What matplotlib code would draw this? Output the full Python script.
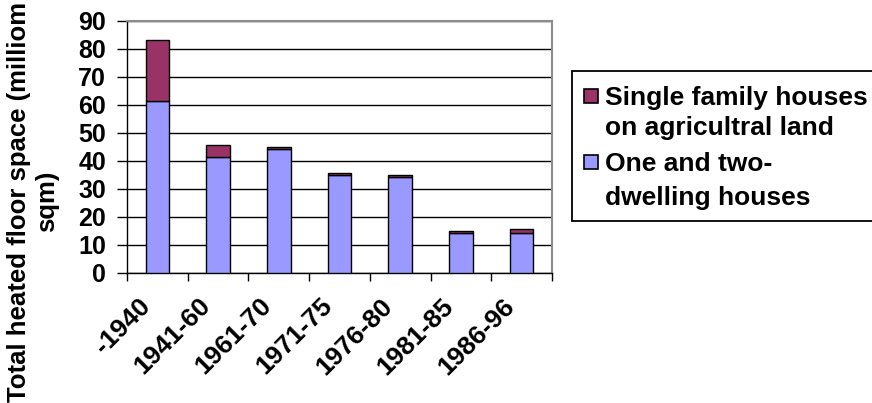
import numpy as np
import matplotlib.pyplot as plt
import matplotlib.transforms as mtransforms
from matplotlib.patches import Rectangle

plt.rcParams['font.family'] = ['Liberation Sans', 'DejaVu Sans']
plt.rcParams['font.weight'] = 'bold'

# heated floor space by construction period (million sqm)
periods = ['-1940', '1941-60', '1961-70', '1971-75', '1976-80', '1981-85', '1986-96']
one_two_dwelling = [61.5, 41.5, 44.2, 35.0, 34.2, 14.2, 14.2]
single_agri = [21.5, 4.2, 0.9, 0.7, 0.9, 0.9, 1.4]

blue = '#9999FF'
maroon = '#993366'

W, H = 872, 403
fig = plt.figure(figsize=(W / 100, H / 100), dpi=100)
ax = fig.add_axes([127 / W, 1 - 273 / H, 425 / W, (273 - 20.7) / H])

x = np.arange(len(periods))
b1 = ax.bar(x, one_two_dwelling, width=0.39, color=blue, edgecolor='black', linewidth=1, zorder=3)
b2 = ax.bar(x, single_agri, width=0.39, bottom=one_two_dwelling, color=maroon, edgecolor='black',
            linewidth=1, zorder=3)

ax.set_xlim(-0.5, len(periods) - 0.5)
ax.set_ylim(0, 90)
ax.set_yticks(range(0, 91, 10))
ax.yaxis.grid(True, color='black', linewidth=1)
ax.set_axisbelow(True)

ax.set_xticks(x)
ax.set_xticklabels(periods, rotation=45, ha='right', va='center', rotation_mode='anchor')
ax.set_xticks(np.arange(-0.5, len(periods)), minor=True)
ax.tick_params(axis='x', which='major', length=0, pad=21, labelsize=19)
ax.tick_params(axis='x', which='minor', length=6, width=1, direction='out')
ax.tick_params(axis='y', length=7, width=1, direction='out', labelsize=18, pad=8)
offset = mtransforms.ScaledTranslation(-11 / 100, 0, fig.dpi_scale_trans)
for lbl in ax.get_xticklabels():
    lbl.set_transform(lbl.get_transform() + offset)

for side in ['top', 'right']:
    ax.spines[side].set_color('#8c8c8c')
    ax.spines[side].set_linewidth(1.5)
for side in ['left', 'bottom']:
    ax.spines[side].set_color('black')
    ax.spines[side].set_linewidth(1)

fig.text(33 / W, 0.5, 'Total heated floor space (milliom\nsqm)', rotation=90, ha='center', va='center',
         multialignment='center', fontsize=18.5, fontweight='bold', linespacing=1.2)

# legend box, running off the right edge
fig.patches.append(Rectangle((572 / W, 1 - 221 / H), 320 / W, 150 / H, transform=fig.transFigure,
                             facecolor='white', edgecolor='black', linewidth=1.3, clip_on=False))
entries = [(b2, ['Single family houses', 'on agricultral land'], [105, 135]),
           (b1, ['One and two-', 'dwelling houses'], [171, 205])]
for bars, lines, baselines in entries:
    face = bars.patches[0].get_facecolor()
    cy = baselines[0] - 9
    fig.patches.append(Rectangle((584 / W, 1 - (cy + 7) / H), 14 / W, 14 / H, transform=fig.transFigure,
                                 facecolor=face, edgecolor='black', linewidth=1.2))
    for txt, base in zip(lines, baselines):
        fig.text(605 / W, 1 - base / H, txt, ha='left', va='baseline', fontsize=19, fontweight='bold')

fig.savefig('out.png', dpi=100)
